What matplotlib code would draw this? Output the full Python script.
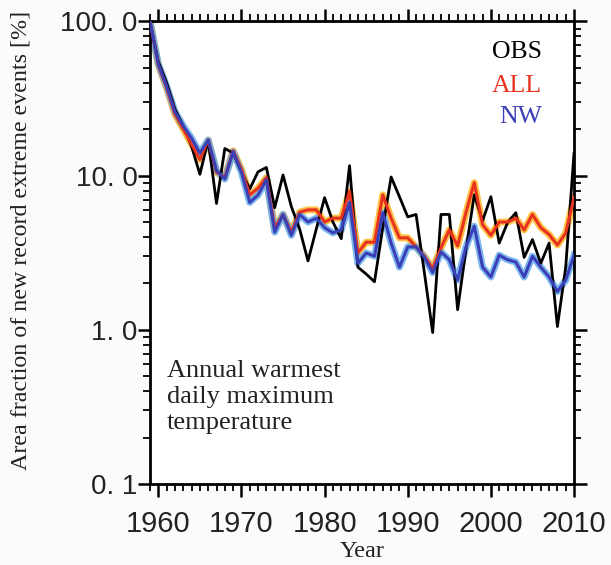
import numpy as np
import matplotlib
matplotlib.use("Agg")
import matplotlib.pyplot as plt
from matplotlib.ticker import FixedLocator, LogLocator, NullFormatter, MultipleLocator

years = np.arange(1959, 2011)

obs = [100, 55, 40, 27, 21, 15.5, 10.2, 17, 6.6, 15,
       14, 10.6, 8.2, 10.6, 11.3, 6.2, 10.1, 6.3, 4.5, 2.8,
       4.5, 7.2, 5.0, 3.9, 11.6, 2.55, 2.3, 2.05, 4.6, 9.8,
       7.3, 5.4, 5.6, 2.35, 0.96, 5.6, 5.6, 1.35, 3.3, 7.5,
       5.1, 7.3, 3.65, 4.95, 5.75, 2.95, 3.85, 2.7, 3.65, 1.05,
       2.55, 14]

all_forcing = [100, 52, 37, 25, 20, 16, 12.7, 17, 10.5, 9.8,
               14.5, 11, 7.5, 8.3, 9.7, 4.6, 5.6, 4.3, 5.8, 6.0,
               6.0, 5.0, 5.3, 5.3, 7.9, 3.15, 3.7, 3.7, 7.5, 5.3,
               3.95, 3.95, 3.45, 3.0, 2.5, 3.4, 4.45, 3.5, 5.75, 9.0,
               4.8, 4.1, 5.0, 5.0, 5.3, 4.45, 5.6, 4.6, 4.15, 3.55,
               4.25, 7.2]

no_warming = [100, 53, 38, 26, 21, 17.5, 14, 17, 10.8, 9.5,
              14.3, 10.5, 6.7, 7.5, 9.4, 4.3, 5.6, 4.1, 5.6, 5.0,
              5.3, 4.6, 4.25, 4.45, 6.7, 2.7, 3.15, 3.0, 5.75, 3.65,
              2.55, 3.45, 3.45, 2.95, 2.35, 3.2, 2.85, 2.1, 3.45, 4.7,
              2.55, 2.2, 3.05, 2.85, 2.75, 2.2, 3.0, 2.55, 2.2, 1.77,
              2.1, 3.05]

ytick_vals = [0.1, 1, 10, 100]
ytick_labels = ["0. 1", "1. 0", "10. 0", "100. 0"]
xtick_vals = [1960, 1970, 1980, 1990, 2000, 2010]

serif = ["Liberation Serif", "DejaVu Serif"]
sans = ["Liberation Sans", "DejaVu Sans"]

fig = plt.figure(figsize=(6.11, 5.65), dpi=100, facecolor="#fbfbfb")
ax = fig.add_axes([0.2455, 0.1434, 0.694, 0.8186])
ax.set_facecolor("white")

# spread bands drawn as wide soft strokes under the ensemble means
ax.plot(years, all_forcing, color="#ffb21a", lw=5.0, alpha=0.8, solid_joinstyle="round", zorder=2)
ax.plot(years, no_warming, color="#5fa8ea", lw=5.0, alpha=0.8, solid_joinstyle="round", zorder=2)
ax.plot(years, obs, color="black", lw=2.0, zorder=3)
ax.plot(years, all_forcing, color="#e8321e", lw=2.2, zorder=4)
ax.plot(years, no_warming, color="#3a3fb8", lw=2.2, zorder=5)

ax.set_yscale("log")
ax.set_ylim(0.1, 100)
ax.set_xlim(1959, 2010)

ax.yaxis.set_major_locator(FixedLocator(ytick_vals))
ax.yaxis.set_minor_locator(LogLocator(base=10, subs=np.arange(2, 10)))
ax.yaxis.set_minor_formatter(NullFormatter())
ax.set_yticks(ytick_vals)
ax.set_yticklabels(ytick_labels, family=sans, fontsize=20, color="#222222")

ax.set_xticks(xtick_vals)
ax.set_xticklabels([str(v) for v in xtick_vals], family=sans, fontsize=21, color="#222222")
ax.xaxis.set_minor_locator(MultipleLocator(1))

for s in ax.spines.values():
    s.set_linewidth(2)
ax.tick_params(which="major", direction="out", length=9, width=1.8,
               top=True, right=True)
ax.tick_params(which="minor", direction="out", length=5, width=1.3,
               top=True, right=True)
ax.tick_params(axis="x", which="major", pad=10)
ax.tick_params(axis="y", which="major", length=9, pad=0)

ax.set_xlabel("Year", family=serif, fontsize=17.5, labelpad=2, color="#222222")
fig.text(21 / 611, 1 - 240 / 565, "Area fraction of new record extreme events [%]",
         rotation=90, ha="center", va="center",
         family=serif, fontsize=17.3, color="#222222")

ax.text(0.925, 0.92, "OBS", transform=ax.transAxes, ha="right", va="baseline",
        family=serif, fontsize=18.5, color="black")
ax.text(0.925, 0.848, "ALL", transform=ax.transAxes, ha="right", va="baseline",
        family=serif, fontsize=18.5, color="#e8321e")
ax.text(0.925, 0.781, "NW", transform=ax.transAxes, ha="right", va="baseline",
        family=serif, fontsize=18.5, color="#3a3fb8")

ax.text(0.039, 0.119, "Annual warmest\ndaily maximum\ntemperature",
        transform=ax.transAxes, ha="left", va="baseline", linespacing=1.22,
        family=serif, fontsize=19, color="#222222")

fig.savefig("out.png", dpi=100, facecolor=fig.get_facecolor())
